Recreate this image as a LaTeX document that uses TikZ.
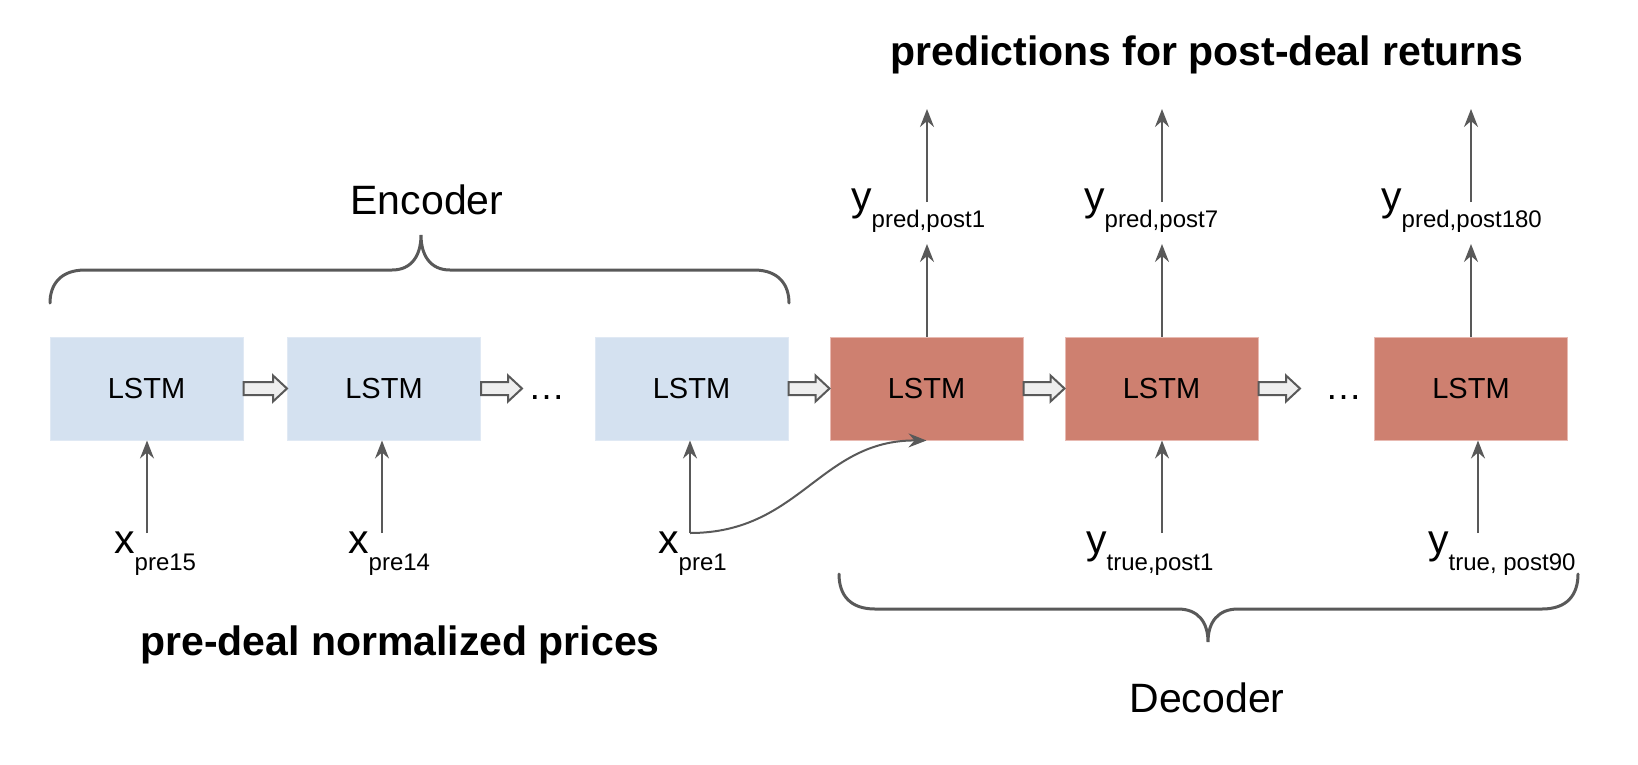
\documentclass[tikz,border=0pt]{standalone}
\usepackage{fontspec}
\setmainfont{Liberation Sans}
\usetikzlibrary{arrows.meta,calc}
\definecolor{encfill}{RGB}{212,225,240}
\definecolor{encline}{RGB}{224,233,244}
\definecolor{decfill}{RGB}{206,128,112}
\definecolor{decline}{RGB}{232,186,178}
\definecolor{arrgray}{RGB}{89,89,89}
\definecolor{blkfill}{RGB}{238,238,238}
\newcommand\sublbl[2]{{\fontsize{41}{43}\selectfont #1}{\fontsize{24}{26}\selectfont\raisebox{-17pt}{#2}}}
\newcommand\blkarrow[2]{\path[blk] ($(#1)+(0,-6.5)$) -- ($(#2)+(-14,-6.5)$) -- ($(#2)+(-14,-13)$) -- (#2) -- ($(#2)+(-14,13)$) -- ($(#2)+(-14,6.5)$) -- ($(#1)+(0,6.5)$) -- cycle;}
\begin{document}
\begin{tikzpicture}[x=1pt,y=-1pt,
  enc/.style={draw=encline, line width=1pt, fill=encfill, minimum width=193pt, minimum height=103pt, inner sep=0pt, font=\fontsize{29}{32}\selectfont},
  dec/.style={enc, draw=decline, fill=decfill},
  arr/.style={draw=arrgray, line width=2pt, -{Stealth[length=18pt,width=14pt,inset=6pt]}},
  brace/.style={draw=arrgray, line width=3pt, line cap=round},
  blk/.style={draw=arrgray, fill=blkfill, line width=2pt, line join=miter},
  lbl/.style={anchor=base west, inner sep=0pt},
  boldtxt/.style={font=\fontsize{41}{44}\selectfont\bfseries, anchor=base, inner sep=0pt},
  big/.style={font=\fontsize{41}{44}\selectfont, anchor=base, inner sep=0pt},
  dotstxt/.style={font=\fontsize{37}{40}\selectfont, anchor=base west, inner sep=0pt}]
\useasboundingbox (0,0) rectangle (1638,764);

% boxes
\node[enc] (b1) at (146.5,388.5) {LSTM};
\node[enc] (b2) at (384,388.5) {LSTM};
\node[enc] (b3) at (691.5,388.5) {LSTM};
\node[dec] (b4) at (926.5,388.5) {LSTM};
\node[dec] (b5) at (1161.5,388.5) {LSTM};
\node[dec] (b6) at (1471,388.5) {LSTM};

% dots
\node[dotstxt] (dots1) at (528,399) {…};
\node[dotstxt] (dots2) at (1325,399) {…};
\coordinate (d1a) at (522,388.5);
\coordinate (d2a) at (1300,388.5);

% block arrows
\blkarrow{b1.east}{b2.west}
\blkarrow{b2.east}{d1a}
\blkarrow{b3.east}{b4.west}
\blkarrow{b4.east}{b5.west}
\blkarrow{b5.east}{d2a}

% input labels
\node[lbl] (xp15) at (114,553) {\sublbl{x}{pre15}};
\node[lbl] (xp14) at (348,553) {\sublbl{x}{pre14}};
\node[lbl] (xp1) at (658,553) {\sublbl{x}{pre1}};
\node[lbl] (yt1) at (1086,553) {\sublbl{y}{true,post1}};
\node[lbl] (yt90) at (1428,553) {\sublbl{y}{true, post90}};

% output labels
\node[lbl] (yp1) at (851,210) {\sublbl{y}{pred,post1}};
\node[lbl] (yp7) at (1084,210) {\sublbl{y}{pred,post7}};
\node[lbl] (yp180) at (1381,210) {\sublbl{y}{pred,post180}};

% input arrows
\coordinate (i1) at (147,533);
\coordinate (i2) at (382,533);
\coordinate (i3) at (690,533);
\coordinate (i5) at (1162,533);
\coordinate (i6) at (1478,533);
\draw[arr] (i1) -- (i1 |- b1.south);
\draw[arr] (i2) -- (i2 |- b2.south);
\draw[arr] (i3) -- (i3 |- b3.south);
\draw[arr] (i5) -- (i5 |- b5.south);
\draw[arr] (i6) -- (i6 |- b6.south);
\draw[arr] (i3) .. controls (800,533) and (820,440) .. (b4.south);

% output arrows
\coordinate (o4a) at (927,244);
\coordinate (o5a) at (1162,244);
\coordinate (o6a) at (1471,244);
\coordinate (o4b) at (927,202);
\coordinate (o5b) at (1162,202);
\coordinate (o6b) at (1471,202);
\coordinate (o4c) at (927,109);
\coordinate (o5c) at (1162,109);
\coordinate (o6c) at (1471,109);
\draw[arr] (o4a |- b4.north) -- (o4a);
\draw[arr] (o5a |- b5.north) -- (o5a);
\draw[arr] (o6a |- b6.north) -- (o6a);
\draw[arr] (o4b) -- (o4c);
\draw[arr] (o5b) -- (o5c);
\draw[arr] (o6b) -- (o6c);

% braces
\path[brace] (50,303) .. controls (50,285) and (60,270) .. (85,270) -- (392,270) .. controls (412,270) and (421,255) .. (421,235) .. controls (421,255) and (430,270) .. (450,270) -- (754,270) .. controls (779,270) and (789,285) .. (789,303);
\path[brace] (839,574) .. controls (839,595) and (850,609) .. (875,609) -- (1178,609) .. controls (1198,609) and (1208,622) .. (1208,642) .. controls (1208,622) and (1218,609) .. (1238,609) -- (1542,609) .. controls (1567,609) and (1578,595) .. (1578,574);

% texts
\node[big] (enc) at (427,214) {Encoder};
\node[big] (dec) at (1207,712) {Decoder};
\node[boldtxt] (ttl) at (1207,65) {predictions for post-deal returns};
\node[boldtxt] (pre) at (400,655) {pre-deal normalized prices};
\end{tikzpicture}
\end{document}
